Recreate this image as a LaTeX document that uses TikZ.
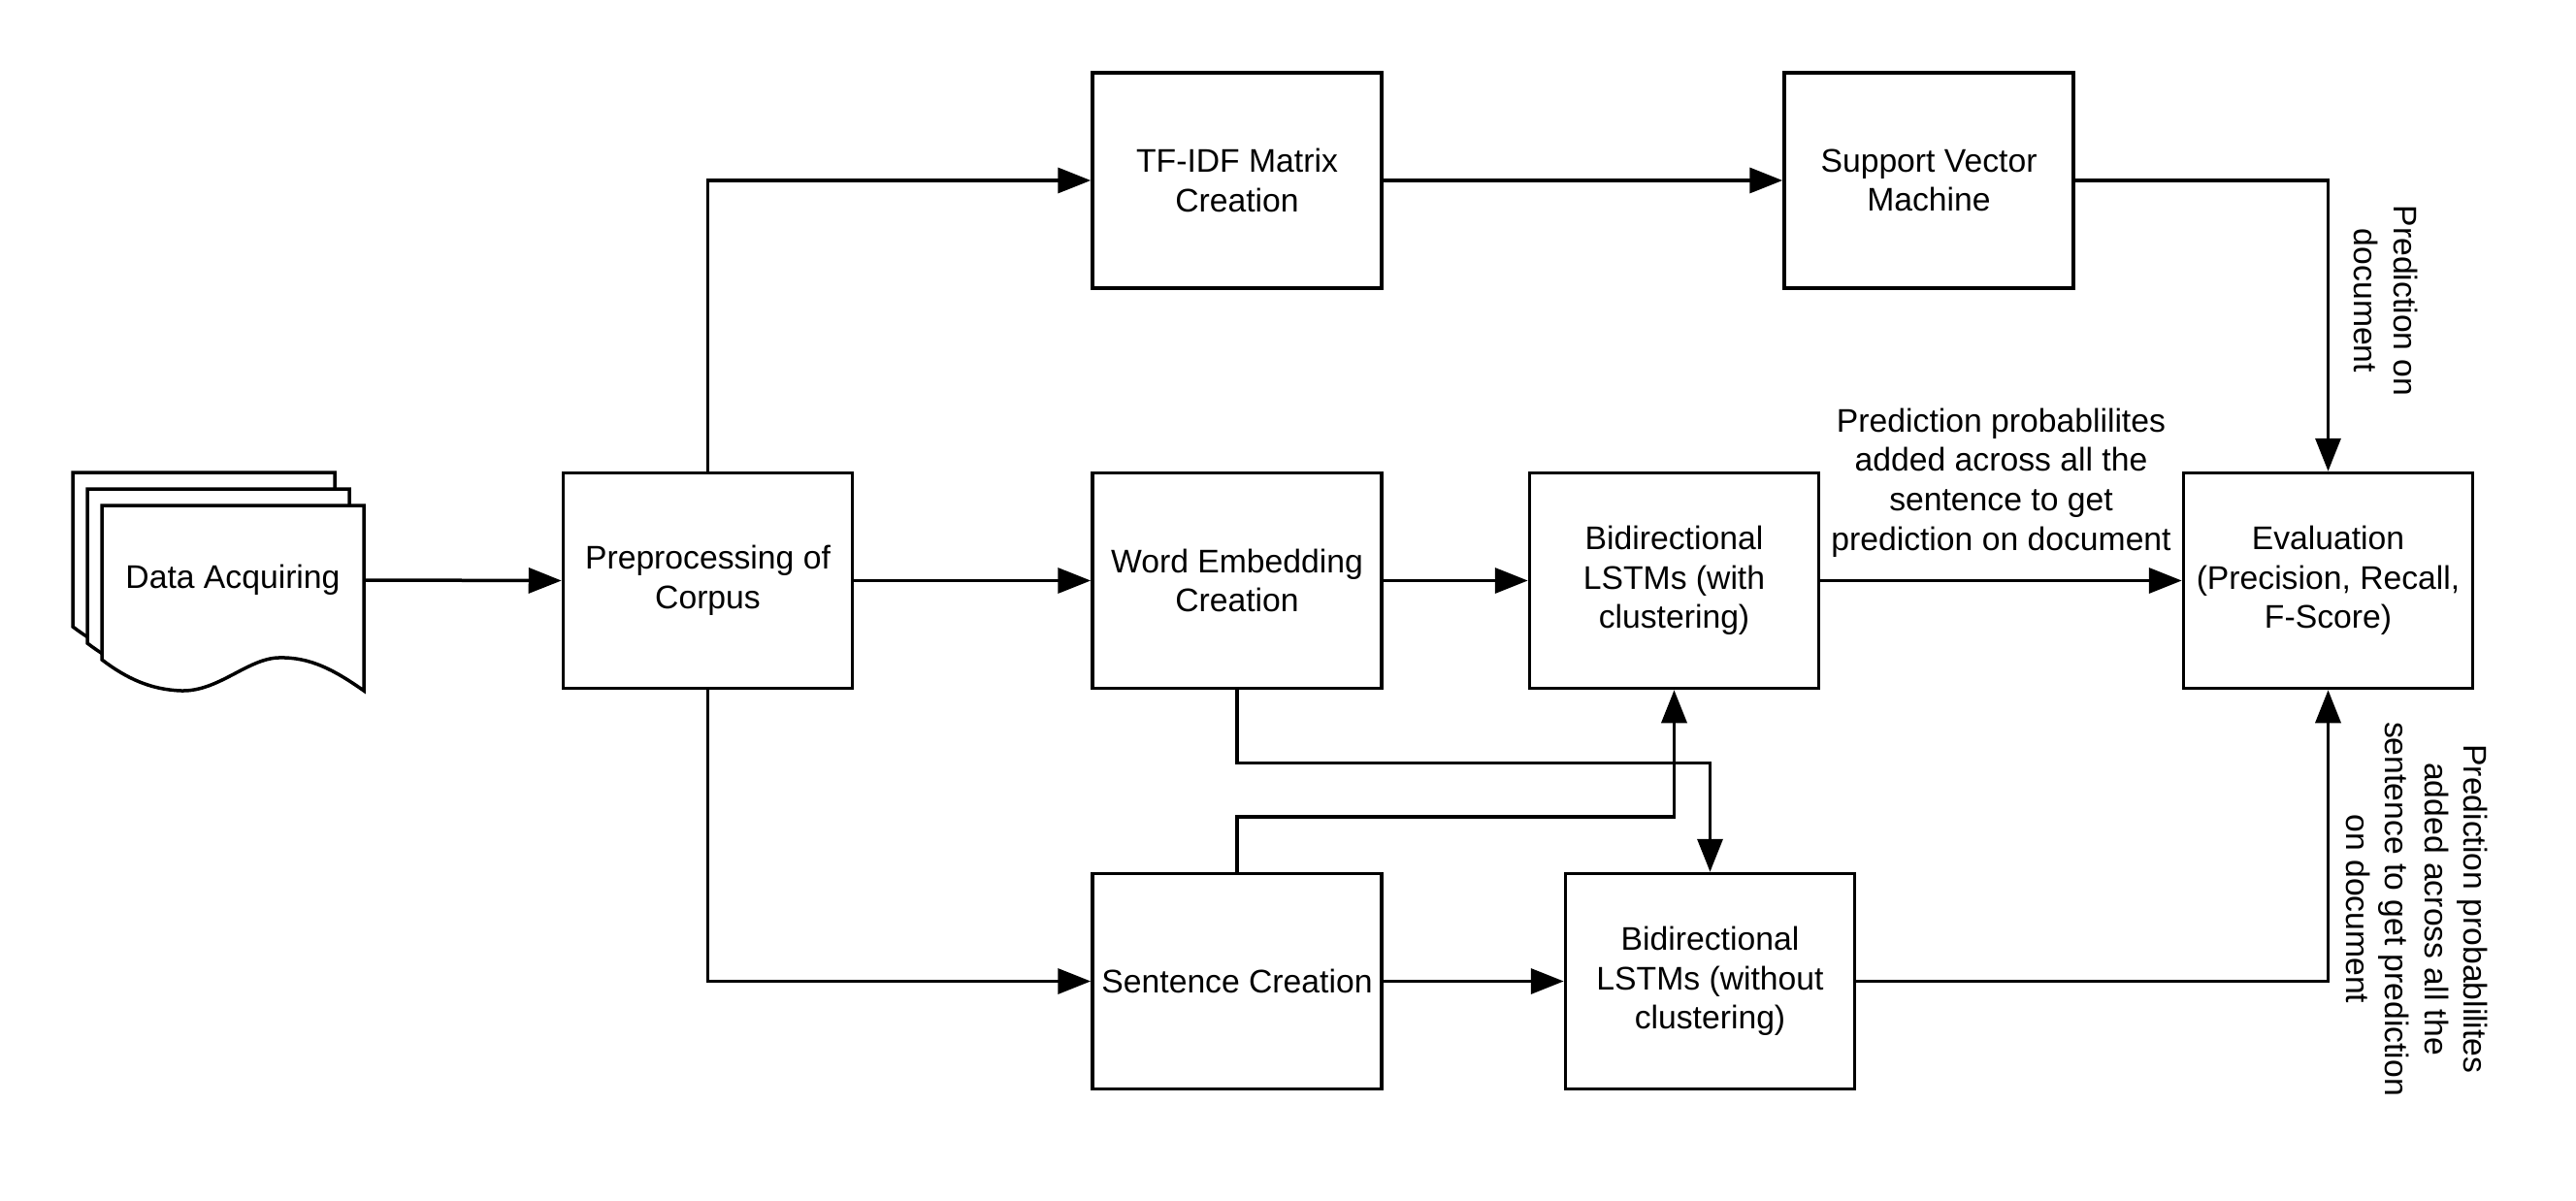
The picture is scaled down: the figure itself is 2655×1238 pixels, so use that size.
\documentclass[tikz,border=0pt]{standalone}
\usepackage{fontspec}
\setmainfont{Liberation Sans}
\usetikzlibrary{arrows.meta}
\begin{document}
\begin{tikzpicture}[x=1pt,y=-1pt,
  every node/.style={font=\fontsize{33.7}{40.6}\selectfont},
  box/.style={draw, line width=3.5pt, minimum width=298pt, minimum height=222pt, align=center, inner sep=0pt, fill=white},
  conn/.style={line width=3.5pt, -{Triangle[length=34pt,width=26pt]}},
  lbl/.style={align=center, inner sep=0pt},
  page/.style={draw, line width=3.5pt, fill=white}
]
\useasboundingbox[fill=white] (0,0) rectangle (2655,1238);

% stacked documents
\foreach \dx/\dy in {75/487, 90/504, 105/521}{
  \draw[page, shift={(\dx,\dy)}] (0,0) -- (270,0) -- (270,191)
    .. controls (240,170) and (215,156) .. (182,157)
    .. controls (150,158) and (120,192) .. (82,191)
    .. controls (50,190) and (25,178) .. (0,159) -- cycle;
}
\node[lbl, minimum width=270pt] (data) at (240,598) {Data Acquiring};

% boxes
\node[box] (tfidf) at (1275,186) {TF-IDF Matrix\\Creation};
\node[box] (svm) at (1988,186) {Support Vector\\Machine};
\node[box] (pre) at (729.5,598.5) {Preprocessing of\\Corpus};
\node[box] (we) at (1275,598.5) {Word Embedding\\Creation};
\node[box] (bl1) at (1725.5,598.5) {Bidirectional\\LSTMs (with\\clustering)};
\node[box] (ev) at (2399.5,598.5) {Evaluation\\(Precision, Recall,\\F-Score)};
\node[box] (sc) at (1275,1011.5) {Sentence Creation};
\node[box] (bl2) at (1762.5,1011.5) {Bidirectional\\LSTMs (without\\clustering)};

% connectors
\draw[conn] (data.east) -- (pre.west);
\draw[conn] (pre.north) |- (tfidf.west);
\draw[conn] (tfidf.east) -- (svm.west);
\draw[conn] (svm.east) -| (ev.north);
\draw[conn] (pre.east) -- (we.west);
\draw[conn] (we.east) -- (bl1.west);
\draw[conn] (bl1.east) -- node[lbl, midway, yshift=101pt] {Prediction probablilites\\added across all the\\sentence to get\\prediction on document} (ev.west);
\draw[conn] (pre.south) |- (sc.west);
\draw[conn] (we.south) -- ++(0,75) -| (bl2.north);
\draw[conn] (sc.north) -- ++(0,-57) -| (bl1.south);
\draw[conn] (sc.east) -- (bl2.west);
\draw[conn] (bl2.east) -| (ev.south);

% rotated labels
\node[lbl, rotate=-90] (lab1) at (2459,310) {Prediction on\\document};
\node[lbl, rotate=-90] (lab2) at (2491,937) {Prediction probablilites\\added across all the\\sentence to get prediction\\on document};
\end{tikzpicture}
\end{document}
